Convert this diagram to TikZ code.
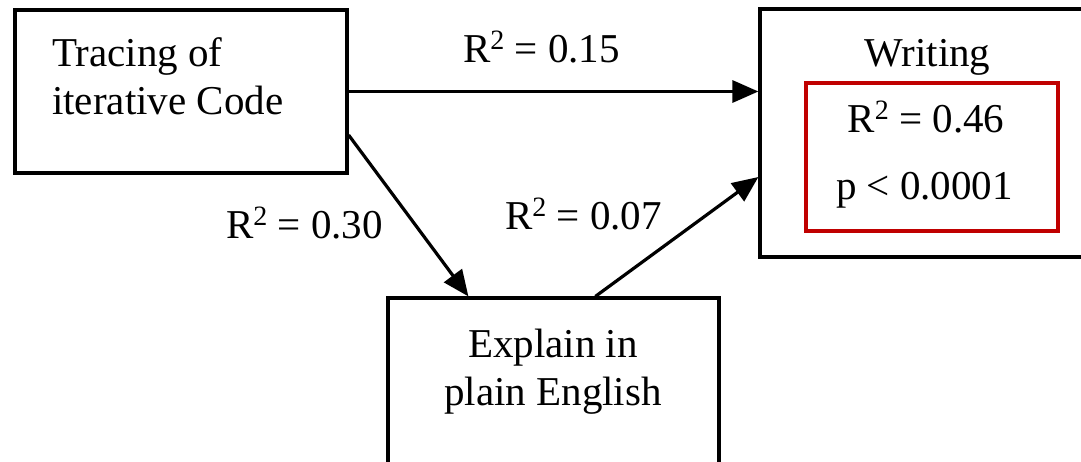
\documentclass[tikz,border=0pt]{standalone}
\usepackage{fontspec}
\setmainfont{Liberation Serif}
\usetikzlibrary{arrows.meta,calc}
\definecolor{boxred}{RGB}{192,0,0}
\newcommand{\mysq}{\raisebox{13pt}{\fontsize{28}{28}\selectfont 2}}
\tikzset{
  box/.style={draw=black, line width=3.2pt, rectangle, inner sep=0pt},
  redbox/.style={draw=boxred, line width=4pt, rectangle, inner sep=0pt},
  txt/.style={font=\fontsize{41}{48}\selectfont, inner sep=0pt, anchor=base},
  conn/.style={line width=3.2pt, -{Triangle[length=26pt,width=22pt]}}
}
\begin{document}
\begin{tikzpicture}[x=1pt,y=-1pt]
\useasboundingbox (0,0) rectangle (1081,462);
\clip (0,0) rectangle (1081,462);
% boxes
\node[box, minimum width=332pt, minimum height=163pt] (box1) at (181,91.5) {};
\node[box, minimum width=330pt, minimum height=248pt] (box2) at (925,133) {};
\node[redbox, minimum width=252pt, minimum height=148pt] (red) at (932,157) {};
\node[box, minimum width=331pt, minimum height=220pt] (box3) at (553.5,408) {};
% texts
\node[txt, anchor=base west] (t1a) at (52,67) {Tracing of};
\node[txt, anchor=base west] (t1b) at (52,115) {iterative Code};
\node[txt] (t2) at (927.5,67) {Writing};
\node[txt] (r46) at (926,133) {R\mysq\ = 0.46};
\node[txt] (pval) at (924.5,200) {p < 0.0001};
\node[txt] (t3a) at (553,357) {Explain in};
\node[txt] (t3b) at (553,405) {plain English};
\node[txt] (l15) at (541.5,63) {R\mysq\ = 0.15};
\node[txt] (l30) at (304.5,239) {R\mysq\ = 0.30};
\node[txt] (l07) at (583.5,230) {R\mysq\ = 0.07};
% connector end points on box borders
\coordinate (s1) at ($(box1.east)+(0,43.5)$);
\coordinate (e1) at ($(box3.north west)+(82,0)$);
\coordinate (s2) at ($(box3.north west)+(209,0)$);
\coordinate (e2) at ($(box2.west)+(0,44)$);
% connectors
\draw[conn] (box1.east) -- (box1.east -| box2.west);
\draw[conn] (s1) -- (e1);
\draw[conn] (s2) -- (e2);
\end{tikzpicture}
\end{document}
